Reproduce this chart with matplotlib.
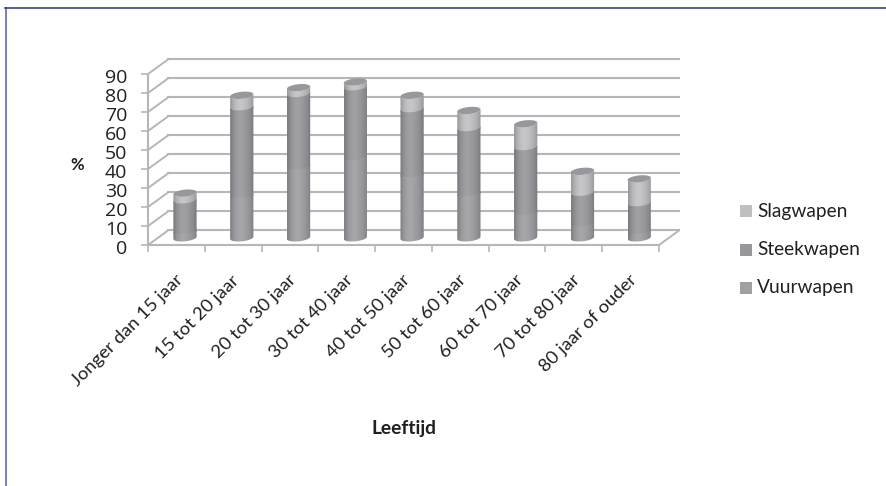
import numpy as np
import matplotlib
matplotlib.use("Agg")
import matplotlib.pyplot as plt
from matplotlib.path import Path
from matplotlib.patches import PathPatch, Rectangle
from matplotlib.lines import Line2D
from matplotlib.transforms import ScaledTranslation

categories = ["Jonger dan 15 jaar", "15 tot 20 jaar", "20 tot 30 jaar", "30 tot 40 jaar",
              "40 tot 50 jaar", "50 tot 60 jaar", "60 tot 70 jaar", "70 tot 80 jaar",
              "80 jaar of ouder"]
vuurwapen = [4, 23, 38, 43, 34, 24, 14, 8, 4]
steekwapen = [16, 46, 38, 36.5, 34, 34, 34, 16, 14.5]
slagwapen = [3.5, 6, 3, 2.5, 7, 9, 12, 11, 12.5]
series_names = ["Slagwapen", "Steekwapen", "Vuurwapen"]
yticks = list(range(0, 100, 10))

W, H = 886, 486
plt.rcParams['font.family'] = ['Lato', 'DejaVu Sans']
fig = plt.figure(figsize=(W / 100, H / 100), dpi=100, facecolor="white")

TXT = "#231f20"
# Frame
fig.add_artist(Line2D([5.5 / W, 5.5 / W], [0, 1 - 8 / H], transform=fig.transFigure,
                      color="#7a80b0", linewidth=1.4))
fig.add_artist(Line2D([5 / W, 1], [1 - 8.5 / H, 1 - 8.5 / H], transform=fig.transFigure,
                      color="#26357f", linewidth=1.1))

L, R, B, T = 148, 659, 245, 74
ax = fig.add_axes([L / W, 1 - B / H, (R - L) / W, (B - T) / H])
n = len(categories)
ax.set_xlim(0, n)
ax.set_ylim(0, 90)
ax.patch.set_alpha(0)
for s in ax.spines.values():
    s.set_visible(False)

GRID = "#b6b6ba"
back = ax.transData + ScaledTranslation(20 / 100, 14.5 / 100, fig.dpi_scale_trans)
mid = ax.transData + ScaledTranslation(8.6 / 100, 7.2 / 100, fig.dpi_scale_trans)
for v in yticks:
    ax.plot([0, n], [v, v], transform=back, color=GRID, lw=1.5, clip_on=False, zorder=1)
    ax.annotate("", xy=(0, v), xycoords=back, xytext=(0, v), textcoords=ax.transData,
                arrowprops=dict(arrowstyle="-", color=GRID, lw=1.4, shrinkA=0, shrinkB=0), zorder=1)
ax.plot([0, n], [0, 0], color=GRID, lw=1.5, clip_on=False, zorder=1)
ax.annotate("", xy=(n, 0), xycoords=back, xytext=(n, 0), textcoords=ax.transData,
            arrowprops=dict(arrowstyle="-", color=GRID, lw=1.4, shrinkA=0, shrinkB=0), zorder=1)
ax.plot([0, 0], [0, 90], color=GRID, lw=1.5, clip_on=False, zorder=1)

ax.set_xticks(range(n + 1))
ax.set_xticklabels([])
ax.set_yticks(yticks)
ax.set_yticklabels([str(v) for v in yticks], fontsize=14, color=TXT, family="Open Sans")
ax.tick_params(axis="y", length=5, color=GRID, width=1.2, pad=10)
ax.tick_params(axis="x", length=5, color=GRID, width=1.2, pad=2)
for lab in ax.get_yticklabels():
    lab.set_transform(lab.get_transform() + ScaledTranslation(0, -2 / 100, fig.dpi_scale_trans))

for i, c in enumerate(categories):
    ax.annotate(c, xy=(i + 0.5, 0), xycoords=ax.get_xaxis_transform(), xytext=(-2, -27),
                textcoords="offset pixels", rotation=45, ha="right", va="top",
                rotation_mode="anchor", fontsize=13.3, color=TXT)

# Cylinders
BW = 0.41
EH = 1.85
TILT = 0.6
profile = np.array([0.82, 0.93, 0.99, 1.03, 1.04, 1.02, 0.99, 0.95, 0.9, 0.82])

def arc(cx, v, t):
    return np.column_stack([cx + BW / 2 * np.cos(t), v + EH * np.sin(t) + TILT * np.cos(t)])

def shade(base):
    base = np.array(matplotlib.colors.to_rgb(base))
    return np.clip(base[None, None, :] * profile[None, :, None], 0, 1)

def cylinder_segment(cx, v0, v1, color, z):
    t = np.linspace(np.pi, 2 * np.pi, 30)
    verts = np.vstack([arc(cx, v0, t), arc(cx, v1, t[::-1])])
    verts = np.vstack([verts, verts[0]])
    clip = PathPatch(Path(verts), transform=mid, facecolor="none", edgecolor="none")
    ax.add_patch(clip)
    im = ax.imshow(shade(color), extent=(cx - BW / 2, cx + BW / 2, v0 - 5, v1 + 5), aspect="auto",
                   transform=mid, interpolation="bilinear", zorder=z)
    im.set_clip_path(clip)

colors = {"vuur": "#a0a0a4", "steek": "#9a9a9e", "slag": "#bfbfc2"}
for i in range(n):
    cx = i + 0.5
    a = vuurwapen[i]
    b = a + steekwapen[i]
    c = b + slagwapen[i]
    z = 3 + i * 0.01
    # painted top-down, each lower segment overlapping the one above to avoid seams
    cylinder_segment(cx, b - 1, c, colors["slag"], z)
    cylinder_segment(cx, a - 1, b, colors["steek"], z + 0.001)
    cylinder_segment(cx, 0, a, colors["vuur"], z + 0.002)
    t = np.linspace(0, 2 * np.pi, 60)
    ax.add_patch(PathPatch(Path(arc(cx, c, t)), transform=mid, facecolor="#98989c",
                           edgecolor="none", zorder=z + 0.003, clip_on=False))
ax.set_xlim(0, n)
ax.set_ylim(0, 90)

# Axis titles
fig.text(77 / W, 1 - 165 / H, "%", fontsize=12, fontweight="bold", ha="center", va="center", color=TXT)
fig.text(404 / W, 1 - 428 / H, "Leeftijd", fontsize=13.8, fontweight="bold", ha="center", va="center", color=TXT)

# Legend
legend_cols = ["#bfbfc2", "#98989c", "#a0a0a4"]
for name, col, y in zip(series_names, legend_cols, [211, 250, 288]):
    fig.add_artist(Rectangle((740 / W, 1 - (y + 6) / H), 12 / W, 12 / H, transform=fig.transFigure,
                             facecolor=col, edgecolor="none"))
    fig.text(757 / W, 1 - y / H, name, fontsize=13.8, ha="left", va="center", color=TXT)

fig.savefig("out.png", dpi=100)
